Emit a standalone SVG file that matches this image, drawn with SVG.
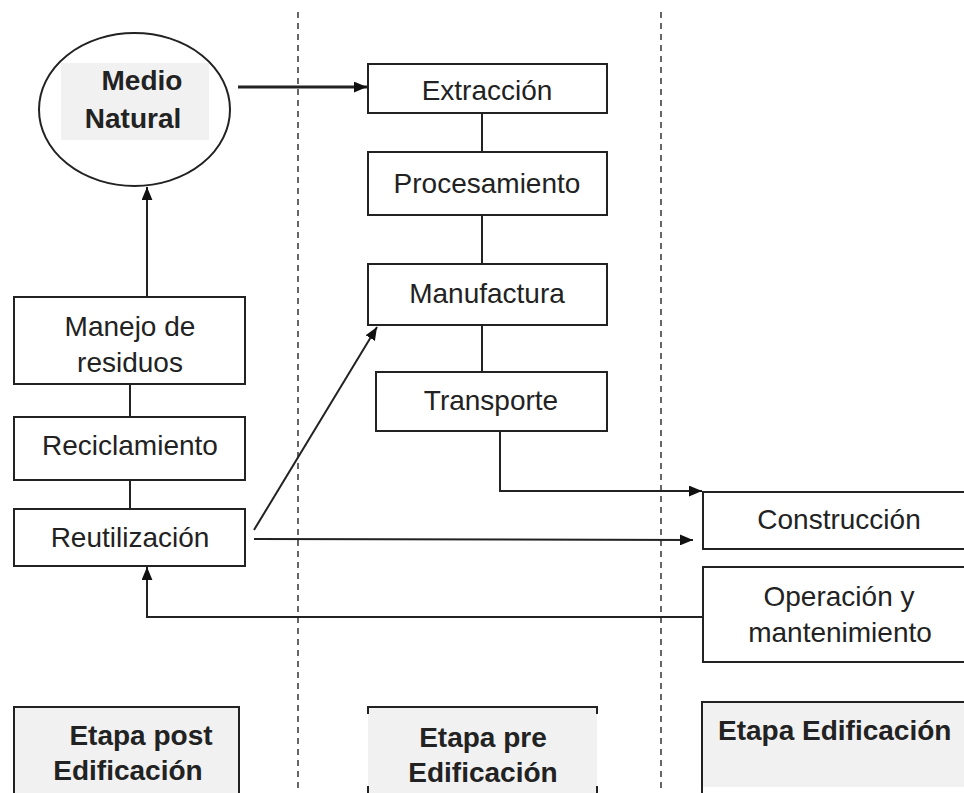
<svg xmlns="http://www.w3.org/2000/svg" width="964" height="793" viewBox="0 0 964 793">
<style>
.box{fill:#fff;stroke:#222;stroke-width:2}
.lbl{font-family:"Liberation Sans",Arial,sans-serif;font-size:28px;fill:#222;text-anchor:middle}
.b{font-weight:bold}
.cn{fill:none;stroke:#222;stroke-width:2}
.dash{stroke:#666;stroke-width:2;stroke-dasharray:6 5}
.gray{fill:#f1f1f1}
</style>
<defs>
<marker id="ah" viewBox="0 0 12 10" refX="12" refY="5" markerWidth="13" markerHeight="11" markerUnits="userSpaceOnUse" orient="auto">
<path d="M0,0 L12,5 L0,10 z" fill="#111"/>
</marker>
</defs>
<rect width="964" height="793" fill="#fff"/>
<g id="separators">
<line class="dash" x1="298" y1="12" x2="298" y2="793"/>
<line class="dash" x1="661" y1="12" x2="661" y2="793"/>
</g>
<g id="connectors">
<line class="cn" x1="238" y1="87" x2="367" y2="87" style="stroke-width:3" marker-end="url(#ah)"/>
<line class="cn" x1="482" y1="113" x2="482" y2="152"/>
<line class="cn" x1="482" y1="215" x2="482" y2="264"/>
<line class="cn" x1="482" y1="325" x2="482" y2="372"/>
<polyline class="cn" points="500,431 500,491 702,491" marker-end="url(#ah)"/>
<line class="cn" x1="147" y1="297" x2="147" y2="187" marker-end="url(#ah)"/>
<line class="cn" x1="130" y1="384" x2="130" y2="417"/>
<line class="cn" x1="130" y1="480" x2="130" y2="509"/>
<line class="cn" x1="254" y1="530" x2="377" y2="327" marker-end="url(#ah)"/>
<line class="cn" x1="254" y1="539" x2="693" y2="540" marker-end="url(#ah)"/>
<polyline class="cn" points="703,617 147,617 147,567" marker-end="url(#ah)"/>
</g>
<g id="medio-natural">
<ellipse cx="134.5" cy="109.5" rx="95.5" ry="76.5" fill="#fff" stroke="#222" stroke-width="2"/>
<rect class="gray" x="61" y="63" width="148" height="77"/>
<text class="lbl b" x="142" y="90">Medio</text>
<text class="lbl b" x="133" y="128">Natural</text>
</g>
<g id="extraccion">
<rect class="box" x="368" y="64" width="239" height="49"/>
<text class="lbl" x="487" y="100">Extracción</text>
</g>
<g id="procesamiento">
<rect class="box" x="368" y="152" width="239" height="63"/>
<text class="lbl" x="487" y="193">Procesamiento</text>
</g>
<g id="manufactura">
<rect class="box" x="368" y="264" width="239" height="61"/>
<text class="lbl" x="487" y="303">Manufactura</text>
</g>
<g id="transporte">
<rect class="box" x="376" y="372" width="231" height="59"/>
<text class="lbl" x="491" y="410">Transporte</text>
</g>
<g id="construccion">
<rect class="box" x="703" y="492" width="280" height="57"/>
<text class="lbl" x="839" y="529">Construcción</text>
</g>
<g id="operacion">
<rect class="box" x="703" y="567" width="280" height="95"/>
<text class="lbl" x="839" y="606">Operación y</text>
<text class="lbl" x="840" y="642">mantenimiento</text>
</g>
<g id="manejo">
<rect class="box" x="14" y="297" width="231" height="87"/>
<text class="lbl" x="130" y="336">Manejo de</text>
<text class="lbl" x="130" y="372">residuos</text>
</g>
<g id="reciclamiento">
<rect class="box" x="14" y="417" width="231" height="63"/>
<text class="lbl" x="130" y="455">Reciclamiento</text>
</g>
<g id="reutilizacion">
<rect class="box" x="14" y="509" width="231" height="57"/>
<text class="lbl" x="130" y="547">Reutilización</text>
</g>
<g id="etapa-post">
<rect class="gray" x="14" y="707" width="225" height="90" stroke="#222" stroke-width="2"/>
<text class="lbl b" x="141" y="745">Etapa post</text>
<text class="lbl b" x="128" y="780">Edificación</text>
</g>
<g id="etapa-pre">
<rect class="gray" x="368" y="707" width="229" height="90"/>
<path d="M368,714 V707 H597 V714 M368,786 V793 M597,786 V793" fill="none" stroke="#222" stroke-width="2"/>
<text class="lbl b" x="483" y="747">Etapa pre</text>
<text class="lbl b" x="483" y="782">Edificación</text>
</g>
<g id="etapa-edificacion">
<rect class="gray" x="702" y="702" width="280" height="85"/>
<path d="M702,793 V702 H970" fill="none" stroke="#222" stroke-width="2"/>
<text class="lbl b" x="718" y="740" style="text-anchor:start">Etapa Edificación</text>
</g>
</svg>
